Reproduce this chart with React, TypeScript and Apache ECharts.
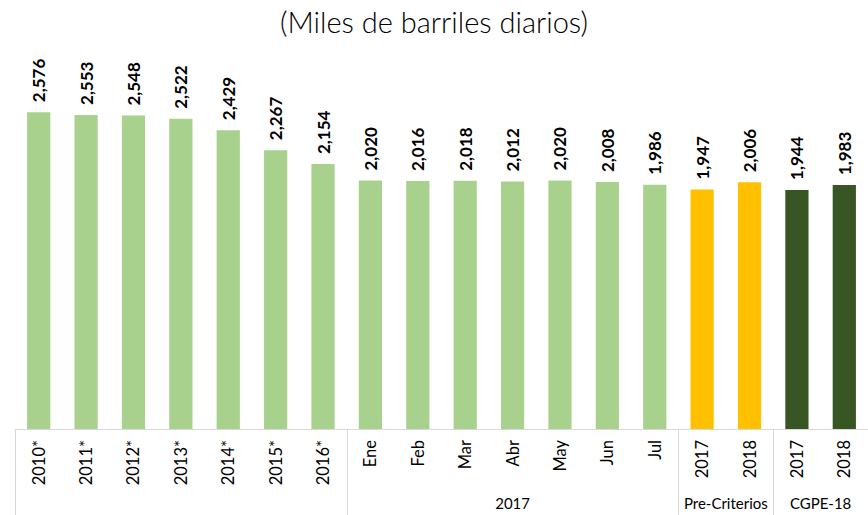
import React, { useEffect, useRef } from "react";
import * as echarts from "echarts";

const categories = [
  "2010*", "2011*", "2012*", "2013*", "2014*", "2015*", "2016*",
  "Ene", "Feb", "Mar", "Abr", "May", "Jun", "Jul",
  "2017", "2018",
  "2017", "2018",
];
const values = [
  2576, 2553, 2548, 2522, 2429, 2267, 2154,
  2020, 2016, 2018, 2012, 2020, 2008, 1986,
  1947, 2006,
  1944, 1983,
];
const groupLabels = ["", "2017", "Pre-Criterios", "CGPE-18"];
const groupSizes = [7, 7, 2, 2];
const groupColors = ["#A9D18E", "#A9D18E", "#FFC000", "#375623"];
const subtitle = "(Miles de barriles diarios)";

const FONT = "Lato, 'Open Sans', sans-serif";

function groupOf(i: number): number {
  let acc = 0;
  for (let g = 0; g < groupSizes.length; g++) {
    acc += groupSizes[g];
    if (i < acc) return g;
  }
  return groupSizes.length - 1;
}

export default function App() {
  const ref = useRef<HTMLDivElement>(null);
  useEffect(() => {
    if (!ref.current) return;
    const chart = echarts.init(ref.current, null, { renderer: "svg" });
    chart.setOption({
      animation: false,
      backgroundColor: "#ffffff",
      title: {
        text: subtitle,
        left: "center",
        top: 2,
        textStyle: { fontFamily: FONT, fontSize: 29, fontWeight: 300, color: "#000" },
      },
      grid: { left: 15, right: 0, top: 60, bottom: 86 },
      xAxis: {
        type: "category",
        data: categories,
        axisLine: { lineStyle: { color: "#d9d9d9", width: 1 } },
        axisTick: { show: false },
        axisLabel: {
          interval: 0,
          rotate: 90,
          margin: 11,
          fontSize: 16.5,
          fontFamily: FONT,
          color: "#000",
        },
      },
      yAxis: {
        type: "value",
        min: 0,
        max: 3000,
        show: false,
        splitLine: { show: false },
      },
      series: [
        {
          type: "bar",
          barWidth: "49%",
          data: values.map((v, i) => ({
            value: v,
            itemStyle: { color: groupColors[groupOf(i)] },
          })),
          label: {
            show: true,
            position: "top",
            rotate: 90,
            align: "left",
            verticalAlign: "middle",
            distance: 10,
            fontFamily: FONT,
            fontSize: 17,
            fontWeight: "bold",
            color: "#000",
            formatter: (p: any) => Number(p.value).toLocaleString("en-US"),
          },
        },
      ],
    });

    const c0 = chart.convertToPixel({ xAxisIndex: 0 }, 0) as number;
    const c1 = chart.convertToPixel({ xAxisIndex: 0 }, 1) as number;
    const band = c1 - c0;
    const start = c0 - band / 2;
    const baseY = chart.convertToPixel({ yAxisIndex: 0 }, 0) as number;
    const graphics: any[] = [];
    let acc = 0;
    const bounds = [0];
    groupSizes.forEach((s) => {
      acc += s;
      bounds.push(acc);
    });
    bounds.slice(0, bounds.length - 1).forEach((b) => {
      const x = Math.round(start + b * band) + 0.5;
      graphics.push({
        type: "line",
        shape: { x1: x, y1: baseY, x2: x, y2: 515 },
        style: { stroke: "#d9d9d9", lineWidth: 1 },
        silent: true,
      });
    });
    groupLabels.forEach((lab, g) => {
      if (!lab) return;
      const mid = start + ((bounds[g] + bounds[g + 1]) / 2) * band;
      graphics.push({
        type: "text",
        x: mid,
        y: 503,
        style: {
          text: lab,
          fontFamily: FONT,
          fontSize: 15,
          fill: "#000",
          align: "center",
          verticalAlign: "middle",
        },
        silent: true,
      });
    });
    chart.setOption({ graphic: graphics });

    return () => chart.dispose();
  }, []);
  return (
    <div
      ref={ref}
      style={{ position: "absolute", left: 0, top: 0, width: 868, height: 515 }}
    />
  );
}
